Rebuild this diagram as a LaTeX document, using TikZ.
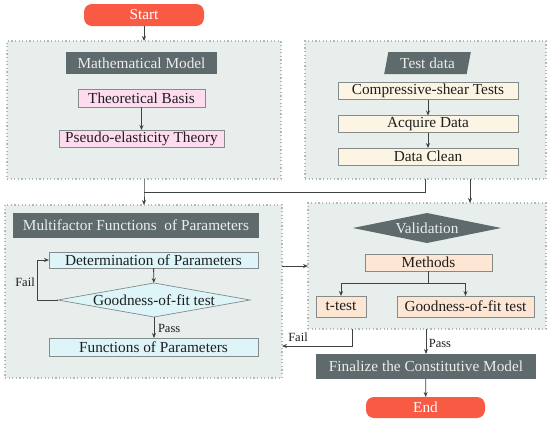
\documentclass[tikz,border=0pt]{standalone}
\usepackage{fontspec}
\setmainfont{Liberation Serif}
\usetikzlibrary{shapes.geometric,arrows.meta}
\definecolor{contfill}{HTML}{E7EEEC}
\definecolor{contline}{HTML}{B4B8B7}
\definecolor{hdr}{HTML}{5E6A6B}
\definecolor{redbox}{HTML}{F95A43}
\definecolor{pinkbox}{HTML}{FDDCEF}
\definecolor{creambox}{HTML}{FCF5E4}
\definecolor{cyanbox}{HTML}{DDF5F8}
\definecolor{peachbox}{HTML}{FDE6D3}
\definecolor{boxline}{HTML}{858A8A}
\definecolor{conn}{HTML}{3F4242}
\definecolor{txt}{HTML}{1E1E1E}
\tikzset{
  x=1pt, y=-1pt,
  every node/.style={inner sep=0pt, outer sep=0pt, text=txt, font=\fontsize{15.3}{18}\selectfont},
  cont/.style={draw=contline, fill=contfill, line width=1.2pt, dash pattern=on 1.2pt off 2.4pt},
  hdrbox/.style={fill=hdr, text=white!93!black},
  term/.style={fill=redbox, rounded corners=8pt, text=white},
  inbox/.style={draw=boxline, line width=0.7pt},
  lbl/.style={font=\fontsize{12.5}{14}\selectfont},
  arr/.style={draw=conn, line width=0.8pt, -{Stealth[length=5pt,width=4pt]}},
  ln/.style={draw=conn, line width=0.8pt},
}
\begin{document}
\begin{tikzpicture}
\useasboundingbox (0,0) rectangle (550,424);
% containers
\node[cont, minimum width=274, minimum height=138] (c1) at (144,110) {};
\node[cont, minimum width=241, minimum height=138] (c2) at (425.5,110) {};
\node[cont, minimum width=277, minimum height=173] (c3) at (143.5,291.5) {};
\node[cont, minimum width=238, minimum height=126] (c4) at (427,266) {};
% terminals
\node[term, minimum width=120, minimum height=22] (start) at (144,15) {Start};
\node[term, minimum width=119, minimum height=21] (end) at (425.5,407.5) {End};
% box 1
\node[hdrbox, minimum width=151, minimum height=22] (mm) at (141.5,63) {Mathematical Model};
\node[inbox, fill=pinkbox, minimum width=127, minimum height=18] (tb) at (141.5,98) {Theoretical Basis};
\node[inbox, fill=pinkbox, minimum width=165, minimum height=17] (pe) at (141.5,138.5) {Pseudo-elasticity Theory};
% box 2
\node[trapezium, trapezium left angle=75, trapezium right angle=105, trapezium stretches=true, fill=hdr, text=white!93!black, minimum width=87, minimum height=22] (td) at (427.5,63) {Test data};
\node[inbox, fill=creambox, minimum width=180, minimum height=17] (cs) at (428,91) {Compressive-shear Tests};
\node[inbox, fill=creambox, minimum width=180, minimum height=17] (ad) at (428,124) {Acquire Data};
\node[inbox, fill=creambox, minimum width=180, minimum height=17] (dc) at (428,156.5) {Data Clean};
% box 3
\node[hdrbox, minimum width=246, minimum height=25] (mf) at (136,225.5) {Multifactor Functions\ \ of Parameters};
\node[inbox, fill=cyanbox, minimum width=209, minimum height=16] (det) at (153.5,260) {Determination of Parameters};
\node[diamond, inbox, fill=cyanbox, aspect=5.65, minimum width=192, minimum height=34] (gof) at (154,300) {Goodness-of-fit test};
\node[inbox, fill=cyanbox, minimum width=209, minimum height=18] (fop) at (153.5,347) {Functions of Parameters};
% box 4
\node[diamond, fill=hdr, text=white!93!black, aspect=4.9, minimum width=148, minimum height=30] (val) at (427,228) {Validation};
\node[inbox, fill=peachbox, minimum width=127, minimum height=17] (meth) at (428.5,262.5) {Methods};
\node[inbox, fill=peachbox, minimum width=50, minimum height=21] (tt) at (341,306.5) {t-test};
\node[inbox, fill=peachbox, minimum width=137, minimum height=21] (gof2) at (465.5,306.5) {Goodness-of-fit test};
\node[hdrbox, minimum width=220, minimum height=25] (fin) at (426,366.5) {Finalize the Constitutive Model};
% coordinates
\coordinate (j1) at (144,192);
\coordinate (t2) at (470,179);
\coordinate (floop) at (37,300);
\coordinate (mj) at (428.5,283);
\coordinate (fstart) at (352,329);
\coordinate (fcorner) at (352,346);
\coordinate (pstart) at (426,329);
% connectors
\draw[arr] (start) -- (c1);
\draw[arr] (tb) -- (pe);
\draw[arr] (cs) -- (ad);
\draw[arr] (ad) -- (dc);
\draw[ln] (c2.south) |- (j1);
\draw[arr] (c1.south -| j1) -- (j1) -- (j1 |- c3.north);
\draw[arr] (t2) -- (t2 |- c4.north);
\draw[arr] (det) -- (gof);
\draw[arr] (gof.west) -- (floop) |- (det.west);
\node[lbl] (fail1) at (25,282) {Fail};
\draw[arr] (gof.south) -- (gof.south |- fop.north);
\node[lbl, anchor=west] (pass1) at (158,328) {Pass};
\draw[arr] (c4.west -| c3.east) -- (c4.west);
\draw[ln] (meth.south) -- (mj);
\draw[arr] (mj) -| (tt.north);
\draw[arr] (mj) -| (gof2.north);
\draw[arr] (fstart) -- (fcorner) -- (fcorner -| c3.east);
\node[lbl] (fail2) at (298,337) {Fail};
\draw[arr] (pstart) -- (pstart |- fin.north);
\node[lbl] (pass2) at (440,343) {Pass};
\draw[arr] (fin) -- (end);
\end{tikzpicture}
\end{document}
